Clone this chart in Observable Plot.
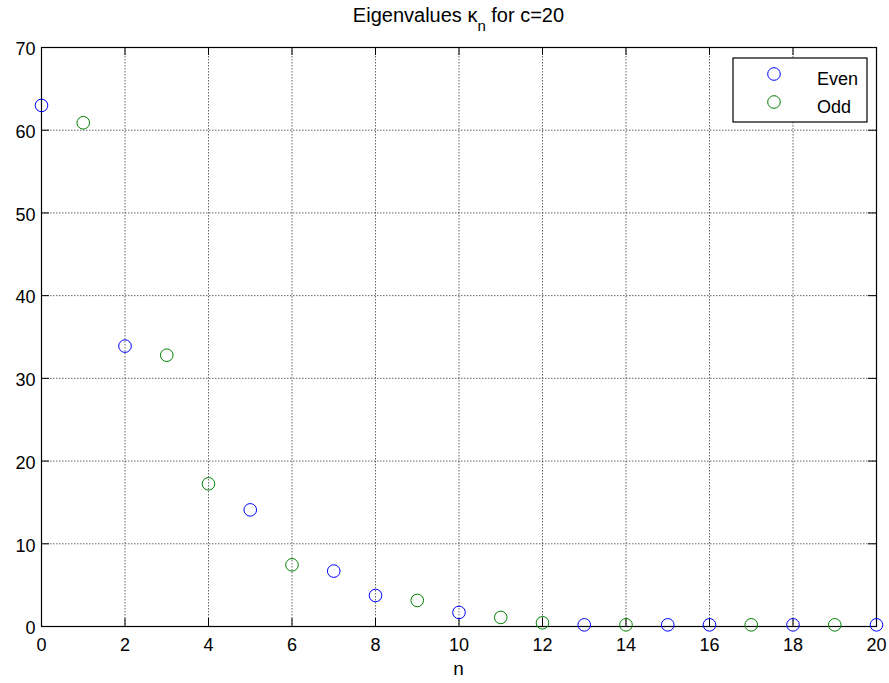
<!DOCTYPE html>
<html>
<head>
<meta charset="utf-8">
<script src="https://cdn.jsdelivr.net/npm/d3@7"></script>
<script src="https://cdn.jsdelivr.net/npm/@observablehq/plot@0.6"></script>
<style>
  html, body { margin: 0; padding: 0; background: #fff; }
  #chart { width: 889px; height: 683px; }
</style>
</head>
<body>
<div id="chart"></div>
<script>
// ---- data ----
const evenN = [0, 2, 5, 7, 8, 10, 13, 15, 16, 18, 20];
const evenK = [63.0, 33.9, 14.1, 6.7, 3.75, 1.7, 0.2, 0.2, 0.2, 0.2, 0.2];
const oddN = [1, 3, 4, 6, 9, 11, 12, 14, 17, 19];
const oddK = [60.9, 32.8, 17.25, 7.45, 3.15, 1.1, 0.45, 0.2, 0.2, 0.2];
const xTicks = [0, 2, 4, 6, 8, 10, 12, 14, 16, 18, 20];
const yTicks = [0, 10, 20, 30, 40, 50, 60, 70];
const seriesNames = ["Even", "Odd"];
const seriesColors = ["#0000ff", "#008000"];

const even = evenN.map((n, i) => ({n, k: evenK[i]}));
const odd = oddN.map((n, i) => ({n, k: oddK[i]}));

const W = 889, H = 683;
const mL = 41, mR = 13, mT = 47, mB = 57;
const plotH = H - mT - mB;
const tickLen = 8;
const gridStyle = {stroke: "#000", strokeOpacity: 0.6, strokeDasharray: "1.5,1.5", strokeWidth: 1};

const chart = Plot.plot({
  width: W, height: H,
  marginLeft: mL, marginRight: mR, marginTop: mT, marginBottom: mB,
  style: {fontFamily: "'Liberation Sans', Arial, sans-serif", fontSize: "18px", background: "#fff", color: "#000"},
  x: {domain: [0, 20], ticks: xTicks, label: null},
  y: {domain: [0, 70], ticks: yTicks, label: null},
  marks: [
    Plot.gridX(xTicks, gridStyle),
    Plot.gridY(yTicks, gridStyle),
    Plot.tickX(xTicks, {x: d => d, insetTop: plotH - tickLen, stroke: "#000"}),
    Plot.tickX(xTicks, {x: d => d, insetBottom: plotH - tickLen, stroke: "#000"}),
    Plot.tickY(yTicks, {y: d => d, insetRight: (W - mL - mR) - tickLen, stroke: "#000"}),
    Plot.tickY(yTicks, {y: d => d, insetLeft: (W - mL - mR) - tickLen, stroke: "#000"}),
    Plot.axisX(xTicks, {tickSize: 0, tickPadding: 12, fontSize: 18}),
    Plot.axisY(yTicks, {tickSize: 0, tickPadding: 6, fontSize: 18, dy: 2}),
    Plot.frame({stroke: "#000", strokeWidth: 1.2}),
    Plot.dot(even, {x: "n", y: "k", r: 6.3, stroke: seriesColors[0], fill: "none", strokeWidth: 1}),
    Plot.dot(odd, {x: "n", y: "k", r: 6.3, stroke: seriesColors[1], fill: "none", strokeWidth: 1})
  ]
});
document.getElementById("chart").appendChild(chart);

const svg = d3.select(chart);
const ff = "'Liberation Sans', Arial, sans-serif";

// title with subscript
const title = svg.append("text")
  .attr("x", mL + (W - mL - mR) / 2).attr("y", 22)
  .attr("text-anchor", "middle")
  .attr("font-family", ff).attr("font-size", 20).attr("fill", "#000");
title.append("tspan").text("Eigenvalues \u03BA");
title.append("tspan").attr("font-size", 15).attr("dy", 9).text("n");
title.append("tspan").attr("dy", -9).text(" for c=20");

// x label
svg.append("text")
  .attr("x", mL + (W - mL - mR) / 2).attr("y", 675)
  .attr("text-anchor", "middle")
  .attr("font-family", ff).attr("font-size", 19).attr("fill", "#000")
  .text("n");

// legend
const lg = svg.append("g").attr("transform", "translate(733,58)");
lg.append("rect").attr("width", 134).attr("height", 64)
  .attr("fill", "#fff").attr("stroke", "#000").attr("stroke-width", 1.2);
seriesNames.forEach((name, i) => {
  lg.append("circle").attr("cx", 41).attr("cy", 16 + i * 28).attr("r", 6.3)
    .attr("fill", "none").attr("stroke", seriesColors[i]).attr("stroke-width", 1);
  lg.append("text").attr("x", 84).attr("y", 27 + i * 28)
    .attr("text-anchor", "start")
    .attr("font-family", ff).attr("font-size", 18).attr("fill", "#000").text(name);
});
</script>
</body>
</html>
